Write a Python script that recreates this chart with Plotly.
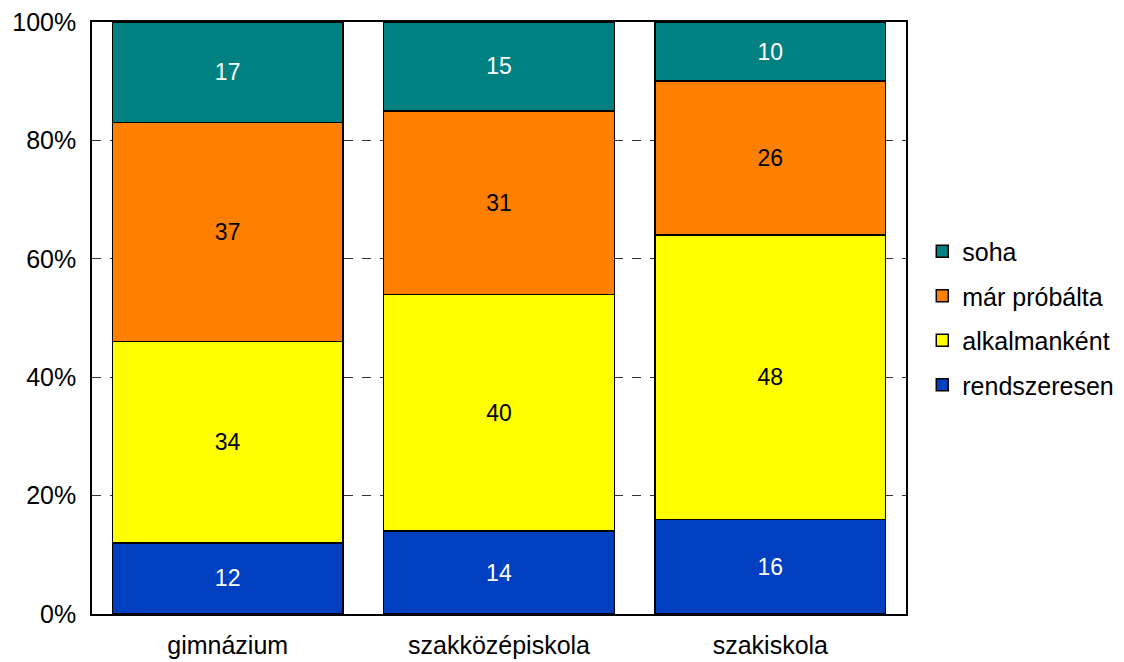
import plotly.graph_objects as go

categories = ["gimnázium", "szakközépiskola", "szakiskola"]
series_names = ["rendszeresen", "alkalmanként", "már próbálta", "soha"]
rendszeresen = [12, 14, 16]
alkalmankent = [34, 40, 48]
mar_probalta = [37, 31, 26]
soha = [17, 15, 10]
values = [rendszeresen, alkalmankent, mar_probalta, soha]
colors = ["#0040C0", "#FFFF00", "#FF8000", "#008080"]
text_colors = ["white", "black", "black", "white"]
y_ticks = [0, 20, 40, 60, 80, 100]
y_tick_labels = ["0%", "20%", "40%", "60%", "80%", "100%"]

FONT = "Liberation Sans, Arial, sans-serif"

fig = go.Figure()
n = len(series_names)
for i, (name, vals, col, tcol) in enumerate(zip(series_names, values, colors, text_colors)):
    fig.add_trace(go.Bar(
        x=categories, y=vals, name=name, legendgroup=name, legendrank=n - i,
        marker=dict(color=col, line=dict(color="black", width=1.5)),
        text=[str(v) for v in vals], textposition="inside",
        insidetextanchor="middle", textangle=0,
        textfont=dict(color=tcol, size=23, family=FONT),
        hoverinfo="skip",
    ))

fig.update_layout(
    barmode="stack", bargap=0.15,
    width=1116, height=654,
    margin=dict(l=84, r=218, t=14, b=48, autoexpand=False),
    paper_bgcolor="white", plot_bgcolor="white",
    font=dict(family=FONT, size=25, color="black"),
    uniformtext=dict(minsize=23, mode="show"),
    legend=dict(
        traceorder="grouped", x=1.02, y=0.5, xanchor="left", yanchor="middle",
        font=dict(size=25, family=FONT), tracegroupgap=9,
        bgcolor="rgba(0,0,0,0)",
    ),
    showlegend=True,
)
fig.update_yaxes(
    range=[0, 100], tickvals=y_ticks, ticktext=y_tick_labels,
    showgrid=True, gridcolor="#333333", griddash="dash", gridwidth=1,
    showline=True, linecolor="black", linewidth=1.5, mirror=True,
    ticks="", ticklen=0, zeroline=False, automargin=False,
    ticklabeloverflow="allow", ticklabelstandoff=9,
    tickfont=dict(size=25, family=FONT),
)
fig.update_xaxes(
    showline=True, linecolor="black", linewidth=1.5, mirror=True,
    ticks="", automargin=False, ticklabeloverflow="allow", ticklabelstandoff=8,
    tickfont=dict(size=25, family=FONT),
)

fig.write_html("out.html")
